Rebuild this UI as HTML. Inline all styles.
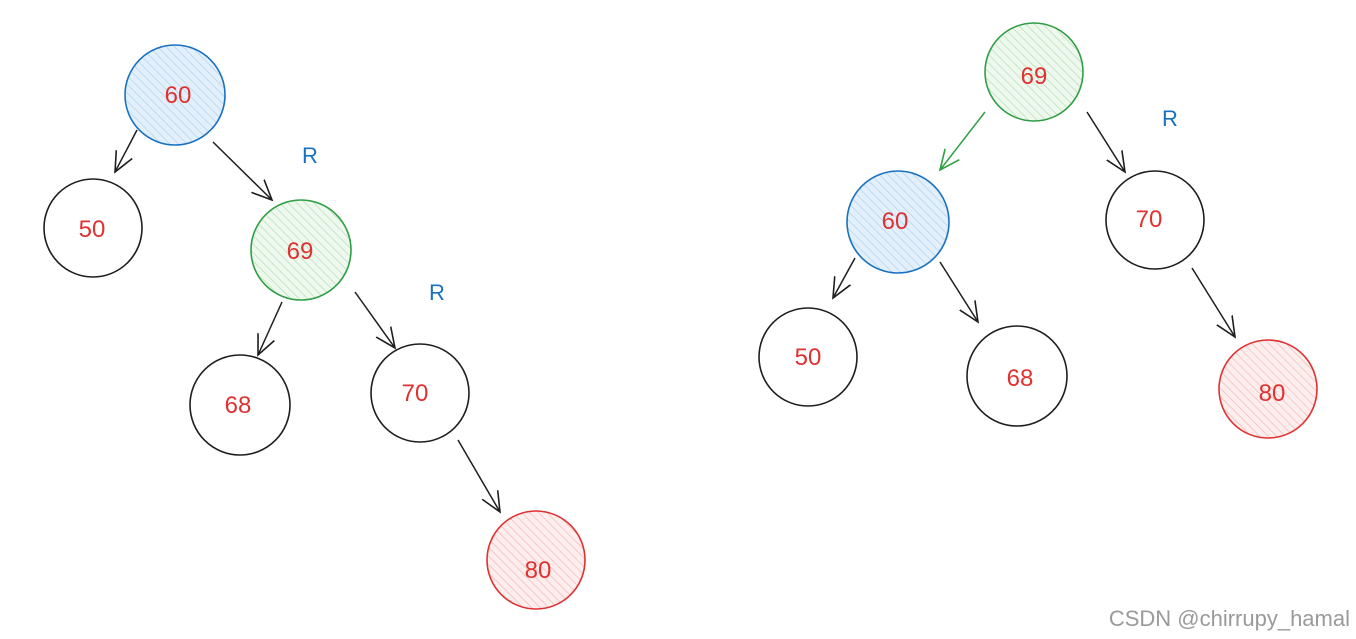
<!DOCTYPE html>
<html><head><style>
html,body{margin:0;padding:0;background:#fff;width:1356px;height:639px;overflow:hidden}
svg text{font-family:"Liberation Sans",sans-serif}
</style></head><body>
<svg width="1356" height="639" viewBox="0 0 1356 639" xmlns="http://www.w3.org/2000/svg">
<defs>
<pattern id="hb" width="6" height="6" patternUnits="userSpaceOnUse" patternTransform="rotate(-45)"><rect width="6" height="6" fill="#e3f0fb"/><line x1="0" y1="0" x2="0" y2="6" stroke="#a5cdee" stroke-width="1.2"/></pattern>
<pattern id="hg" width="6" height="6" patternUnits="userSpaceOnUse" patternTransform="rotate(-45)"><rect width="6" height="6" fill="#eef8ee"/><line x1="0" y1="0" x2="0" y2="6" stroke="#a8dca8" stroke-width="1.2"/></pattern>
<pattern id="hr" width="6" height="6" patternUnits="userSpaceOnUse" patternTransform="rotate(-45)"><rect width="6" height="6" fill="#fdeeee"/><line x1="0" y1="0" x2="0" y2="6" stroke="#f2b0b0" stroke-width="1.2"/></pattern>
<marker id="a" markerWidth="24" markerHeight="24" refX="20" refY="11" orient="auto" markerUnits="userSpaceOnUse"><path d="M0,2 L20,11 L0,20" fill="none" stroke="#1e1e1e" stroke-width="1.6"/></marker>
<marker id="ag" markerWidth="24" markerHeight="24" refX="20" refY="11" orient="auto" markerUnits="userSpaceOnUse"><path d="M0,2 L20,11 L0,20" fill="none" stroke="#2f9e44" stroke-width="1.6"/></marker>
</defs>
<g stroke-width="1.6">
<circle cx="175" cy="95" r="50" fill="url(#hb)" stroke="#1971c2"/>
<circle cx="93" cy="228" r="49" fill="none" stroke="#1e1e1e"/>
<circle cx="301" cy="250" r="50" fill="url(#hg)" stroke="#2f9e44"/>
<circle cx="240" cy="405" r="50" fill="none" stroke="#1e1e1e"/>
<circle cx="420" cy="393" r="49" fill="none" stroke="#1e1e1e"/>
<circle cx="536" cy="560" r="49" fill="url(#hr)" stroke="#e03131"/>
<circle cx="1034" cy="72" r="49" fill="url(#hg)" stroke="#2f9e44"/>
<circle cx="898" cy="222" r="51" fill="url(#hb)" stroke="#1971c2"/>
<circle cx="1155" cy="220" r="49" fill="none" stroke="#1e1e1e"/>
<circle cx="808" cy="357" r="49" fill="none" stroke="#1e1e1e"/>
<circle cx="1017" cy="376" r="50" fill="none" stroke="#1e1e1e"/>
<circle cx="1268" cy="389" r="49" fill="url(#hr)" stroke="#e03131"/>
</g>
<g stroke="#1e1e1e" stroke-width="1.5" fill="none" marker-end="url(#a)">
<line x1="137" y1="130" x2="115" y2="172"/>
<line x1="213" y1="142" x2="272" y2="200"/>
<line x1="282" y1="302" x2="258" y2="355"/>
<line x1="355" y1="292" x2="395" y2="348"/>
<line x1="458" y1="440" x2="500" y2="512"/>
<line x1="1087" y1="112" x2="1125" y2="172"/>
<line x1="855" y1="258" x2="833" y2="298"/>
<line x1="940" y1="262" x2="978" y2="322"/>
<line x1="1192" y1="268" x2="1235" y2="337"/>
</g>
<line x1="985" y1="112" x2="940" y2="170" stroke="#2f9e44" stroke-width="1.5" marker-end="url(#ag)"/>
<g fill="#e03131" font-size="24" text-anchor="middle">
<text x="178" y="103">60</text><text x="92" y="237">50</text><text x="300" y="259">69</text>
<text x="238" y="413">68</text><text x="415" y="401">70</text><text x="538" y="578">80</text>
<text x="1034" y="84">69</text><text x="895" y="229">60</text><text x="1149" y="227">70</text>
<text x="808" y="365">50</text><text x="1020" y="386">68</text><text x="1272" y="401">80</text>
</g>
<g fill="#1971c2" font-size="22" text-anchor="middle">
<text x="310" y="163">R</text><text x="437" y="300">R</text><text x="1170" y="126">R</text>
</g>
<text x="1350" y="626" text-anchor="end" font-size="22" fill="#9a9a9a">CSDN @chirrupy_hamal</text>
</svg>
</body></html>
